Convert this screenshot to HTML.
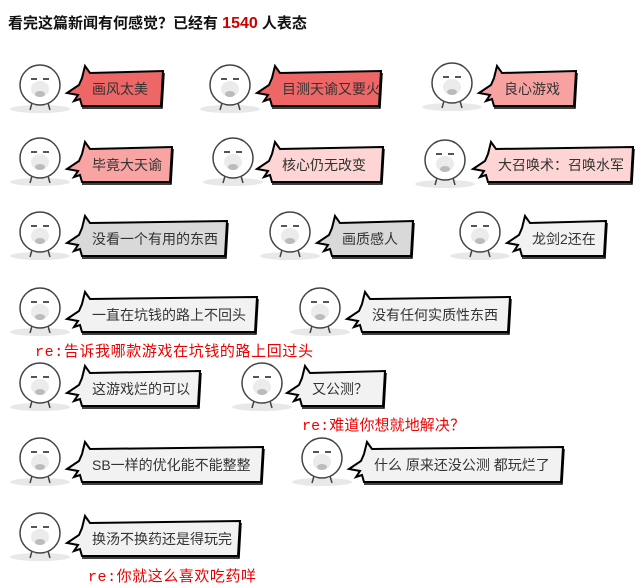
<!DOCTYPE html>
<html><head><meta charset="utf-8"><style>
body{margin:0;background:#fff;width:644px;height:588px;overflow:hidden}
svg{display:block}
text{font-family:"Liberation Sans","Noto Sans CJK SC",sans-serif}
</style></head><body>
<svg width="644" height="588" viewBox="0 0 644 588" xmlns="http://www.w3.org/2000/svg">
<text x="8" y="28" font-size="15" font-weight="bold" fill="#111">看完这篇新闻有何感觉？已经有 <tspan fill="#c00" font-size="16">1540</tspan> 人表态</text>
<defs>
<g id="face">
<ellipse cx="0" cy="24" rx="30" ry="4" fill="#e8e8e8"/>
<circle cx="0" cy="0" r="20" fill="#fff" stroke="#444" stroke-width="1.5"/>
<path d="M-9,-6 h6 M3,-6 h6" stroke="#555" stroke-width="2"/>
<ellipse cx="0" cy="9" rx="5" ry="3" fill="#888"/>
<ellipse cx="0" cy="4" rx="9" ry="8" fill="#ddd" opacity="0.6"/>
<path d="M-8,18 L-10,25 M8,18 L10,25" stroke="#444" stroke-width="1.5"/>
</g>
</defs>
<g id="faces">
<use href="#face" x="40" y="85"/><use href="#face" x="230" y="85"/><use href="#face" x="452" y="83"/>
<use href="#face" x="40" y="158"/><use href="#face" x="233" y="158"/><use href="#face" x="445" y="160"/>
<use href="#face" x="40" y="232"/><use href="#face" x="290" y="232"/><use href="#face" x="480" y="232"/>
<use href="#face" x="40" y="308"/><use href="#face" x="320" y="308"/>
<use href="#face" x="40" y="383"/><use href="#face" x="262" y="383"/>
<use href="#face" x="40" y="458"/><use href="#face" x="322" y="458"/>
<use href="#face" x="40" y="533"/>
</g>
<g id="bubbles" stroke="#000" stroke-width="2" stroke-linejoin="miter"></g>
<g id="labels" font-size="14" fill="#333"></g>
<text x="35" y="356" font-size="15" fill="#e00" textLength="278" lengthAdjust="spacing"><tspan font-family="Liberation Mono">re:</tspan>告诉我哪款游戏在坑钱的路上回过头</text>
<text x="302" y="430" font-size="15" fill="#e00" textLength="163" lengthAdjust="spacing"><tspan font-family="Liberation Mono">re:</tspan>难道你想就地解决？</text>
<text x="88" y="581" font-size="15" fill="#e00" textLength="168" lengthAdjust="spacing"><tspan font-family="Liberation Mono">re:</tspan>你就这么喜欢吃药咩</text>
<script>
var B=[
[82,72,163,106,"#ee6666","画风太美"],[272,72,381,106,"#ee6666","目测天谕又要火"],[494,72,576,106,"#f7a1a1","良心游戏"],
[82,148,172,182,"#f9a3a3","毕竟大天谕"],[272,148,383,182,"#fdd5d5","核心仍无改变"],[488,148,633,182,"#fdd5d5","大召唤术：召唤水军"],
[82,222,227,256,"#d9d9d9","没看一个有用的东西"],[332,222,413,256,"#d9d9d9","画质感人"],[522,222,606,256,"#f2f2f2","龙剑2还在"],
[82,298,257,332,"#f2f2f2","一直在坑钱的路上不回头"],[362,298,510,332,"#f2f2f2","没有任何实质性东西"],
[82,372,200,406,"#f2f2f2","这游戏烂的可以"],[302,372,385,406,"#f2f2f2","又公测？"],
[82,448,263,482,"#f2f2f2","SB一样的优化能不能整整"],[364,448,563,482,"#f2f2f2","什么 原来还没公测 都玩烂了"],
[82,522,240,556,"#f2f2f2","换汤不换药还是得玩完"]];
var g=document.getElementById('bubbles'),l=document.getElementById('labels'),ns="http://www.w3.org/2000/svg";
B.forEach(function(b){var x0=b[0],y0=b[1],x1=b[2],y1=b[3],m=(y0+y1)/2;
var d="M"+x0+","+(y0+6)+" L"+(x0+3)+","+(y0-6)+" L"+(x0+8)+","+(y0+1)+" L"+x1+","+(y0-1)+" L"+(x1-2)+","+y1+" L"+x0+","+y1+" L"+(x0-2)+","+(m+10)+" L"+(x0-8)+","+(m+12)+" L"+(x0-4)+","+(m+6)+" L"+(x0-15)+","+(m+4)+" L"+(x0-3)+","+(m-4)+" Z";
var p=document.createElementNS(ns,'path');p.setAttribute('d',d);p.setAttribute('fill',b[4]);g.appendChild(p);
var s=document.createElementNS(ns,'path');s.setAttribute('d',"M"+(x1+1)+","+(y0+1)+" L"+(x1-1)+","+(y1+2)+" L"+x0+","+(y1+2));s.setAttribute('fill','none');s.setAttribute('stroke-width','1.5');g.appendChild(s);
var t=document.createElementNS(ns,'text');t.setAttribute('x',x0+10);t.setAttribute('y',m+5);t.textContent=b[5];l.appendChild(t);});
</script>
</svg>
</body></html>
